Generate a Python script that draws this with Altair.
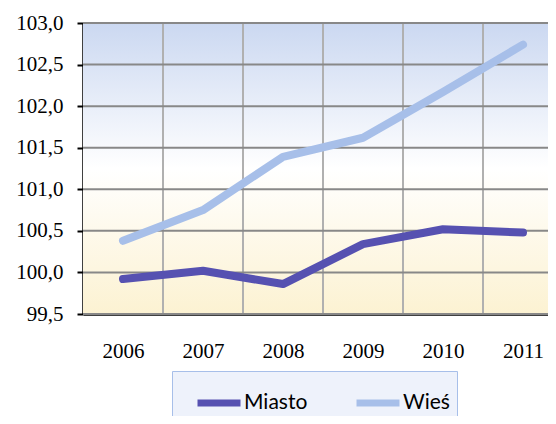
import altair as alt
import pandas as pd

years = [2006, 2007, 2008, 2009, 2010, 2011]
miasto = [99.92, 100.02, 99.86, 100.34, 100.52, 100.48]
wies = [100.38, 100.75, 101.39, 101.62, 102.17, 102.74]
series_names = ["Miasto", "Wieś"]
series_colors = ["#5651b1", "#a7bfe9"]
y_ticks = [99.5, 100.0, 100.5, 101.0, 101.5, 102.0, 102.5, 103.0]

W, H = 465, 291

df = pd.DataFrame({
    "rok": years * 2,
    "wartosc": miasto + wies,
    "seria": [series_names[0]] * len(years) + [series_names[1]] * len(years),
})
grid_df = pd.DataFrame({"granica": [y + 0.5 for y in years[:-1]]})
hgrid_df = pd.DataFrame({"poziom": y_ticks})
bg_df = pd.DataFrame({"a": [0]})

xscale = alt.Scale(domain=[2005.5, 2005.5 + W / 80.0], nice=False, zero=False)
yscale = alt.Scale(domain=[99.5, 103.0], nice=False, zero=False)

bg = alt.Chart(bg_df).mark_rect(
    color=alt.LinearGradient(
        gradient="linear", x1=0, y1=0, x2=0, y2=1,
        stops=[
            alt.GradientStop(offset=0, color="#cbd8f1"),
            alt.GradientStop(offset=0.5, color="#ffffff"),
            alt.GradientStop(offset=1, color="#fcf2d2"),
        ],
    )
).encode(x=alt.value(0), x2=alt.value(W), y=alt.value(0), y2=alt.value(H))

vgrid = alt.Chart(grid_df).mark_rule(color="#b0b0b0", strokeWidth=2).encode(
    x=alt.X("granica:Q", scale=xscale),
    y=alt.value(0), y2=alt.value(H),
)

hgrid = alt.Chart(hgrid_df).mark_rule(color="#888888", strokeWidth=2).encode(
    y=alt.Y("poziom:Q", scale=yscale),
    x=alt.value(0), x2=alt.value(W),
)

lines = alt.Chart(df).mark_line(strokeWidth=8, strokeCap="round", strokeJoin="round").encode(
    x=alt.X("rok:Q", scale=xscale, title=None,
            axis=alt.Axis(values=years, format="d", grid=False, ticks=False,
                          domainColor="black", domainWidth=2.5,
                          labelFont="Liberation Serif", labelFontSize=21, labelColor="black",
                          labelPadding=26, labelFlush=False)),
    y=alt.Y("wartosc:Q", scale=yscale, title=None,
            axis=alt.Axis(values=y_ticks, grid=False,
                          domainColor="black", domainWidth=2.5,
                          tickColor="black", tickSize=6, tickWidth=2,
                          labelFont="Liberation Serif", labelFontSize=21, labelColor="black",
                          labelPadding=14, labelFlush=False,
                          labelExpr="replace(format(datum.value, '.1f'), '.', ',')")),
    color=alt.Color("seria:N", scale=alt.Scale(domain=series_names, range=series_colors),
                    legend=alt.Legend(title=None, orient="none", legendX=89, legendY=348,
                                      direction="horizontal", symbolType="stroke",
                                      symbolStrokeWidth=7, symbolSize=1849,
                                      symbolOffset=15,
                                      labelFont="Lato", labelFontSize=21, labelColor="black",
                                      labelOffset=0, columnPadding=30, padding=7,
                                      fillColor="#eef2fb", strokeColor="#a7bfe9")),
)

chart = alt.layer(bg, vgrid, hgrid, lines).properties(
    width=W, height=H,
    autosize=alt.AutoSizeParams(type="none"),
    padding={"left": 75, "top": 15, "right": 0, "bottom": 102},
).configure_view(stroke=None).configure_axis(labelFont="Liberation Serif")

chart.save("out.html", embed_options={"renderer": "svg", "actions": False})
